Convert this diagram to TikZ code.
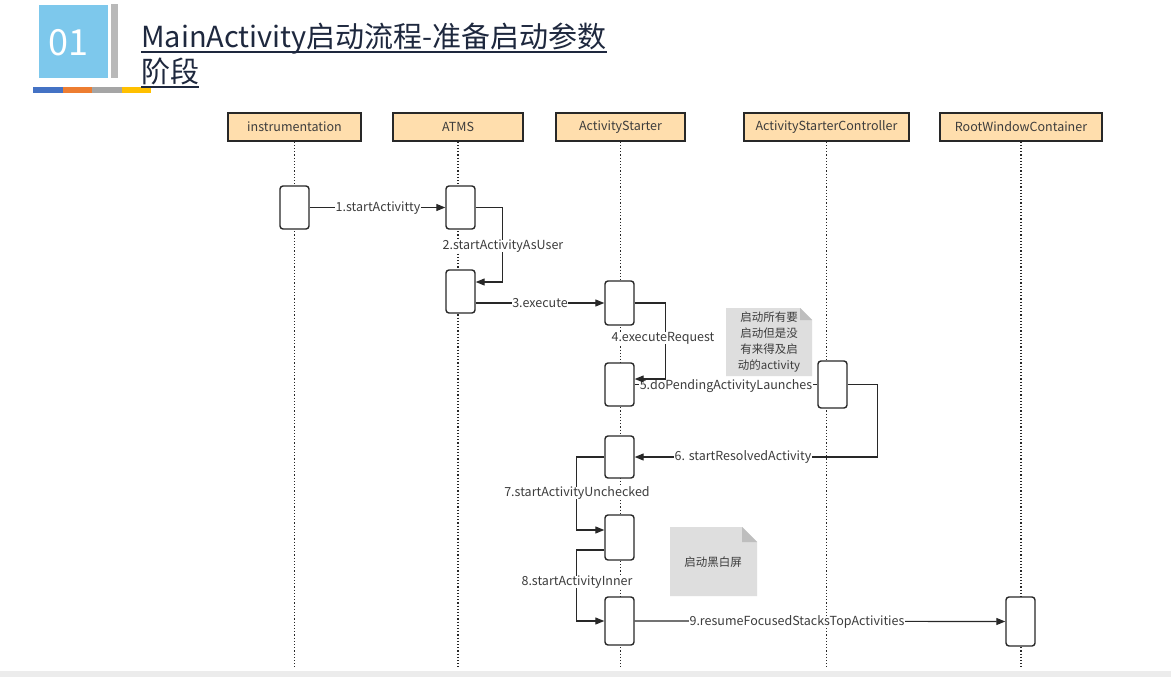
\documentclass[tikz,border=0pt]{standalone}
\usepackage{fontspec}
\setmainfont{Noto Sans CJK SC}
\usetikzlibrary{arrows.meta}
\definecolor{hdrfill}{RGB}{255,222,173}
\definecolor{ink}{RGB}{40,40,40}
\definecolor{txt}{RGB}{60,60,60}
\definecolor{notefill}{RGB}{222,222,222}
\definecolor{notefold}{RGB}{190,190,190}
\definecolor{sqblue}{RGB}{125,200,236}
\definecolor{titlecol}{RGB}{30,40,62}
\definecolor{obl}{RGB}{68,114,196}
\definecolor{oor}{RGB}{237,125,49}
\definecolor{ogr}{RGB}{165,165,165}
\definecolor{oye}{RGB}{255,192,0}
\tikzset{
  hdr/.style={draw=ink, line width=1.3pt, fill=hdrfill, minimum height=28pt, inner sep=0pt,
    font=\fontsize{12.5}{14}\selectfont, text=txt},
  life/.style={draw=ink, line width=1.2pt, dotted},
  act/.style={draw=ink, line width=1.4pt, fill=white, rounded corners=3pt, minimum width=29pt, inner sep=0pt},
  msg/.style={draw=ink, line width=1.2pt, -{Triangle[length=9pt,width=7pt]}},
  plain/.style={draw=ink, line width=1.2pt},
  lbl/.style={fill=white, inner xsep=0.5pt, inner ysep=0pt, font=\fontsize{12.5}{14}\selectfont, text=txt},
  notetxt/.style={font=\fontsize{11.5}{16}\selectfont, text=txt, align=center, inner sep=0pt}
}
\begin{document}
\begin{tikzpicture}[x=1pt,y=-1pt]
\useasboundingbox (0,0) rectangle (1171,677);
\fill[white] (0,0) rectangle (1171,677);
\fill[gray!15] (0,671) rectangle (1171,677);
% title
\fill[sqblue] (39,5) rectangle (108,78);
\node[text=white, font=\fontsize{36}{38}\selectfont, inner sep=0pt] (num) at (68,43) {01};
\fill[gray!55] (111,4) rectangle (118,78);
\fill[obl] (33,87) rectangle (63,93);
\fill[oor] (63,87) rectangle (92,93);
\fill[ogr] (92,87) rectangle (122,93);
\fill[oye] (122,87) rectangle (151,93);
\node[anchor=base west, text=titlecol, font=\fontsize{29}{31}\selectfont, inner sep=0pt] (t1) at (141,48) {MainActivity启动流程-准备启动参数};
\node[anchor=base west, text=titlecol, font=\fontsize{29}{31}\selectfont, inner sep=0pt] (t2) at (141,83) {阶段};
\draw[titlecol, line width=1.2pt] (t1.base west) ++(0,4) -- (t1.base east |- 0,52);
\draw[titlecol, line width=1.2pt] (t2.base west) ++(0,4) -- (t2.base east |- 0,87);
% headers
\node[hdr, minimum width=133pt] (h1) at (294.5,127) {instrumentation};
\node[hdr, minimum width=130pt] (h2) at (458,127) {ATMS};
\node[hdr, minimum width=129pt] (h3) at (620.5,127) {ActivityStarter};
\node[hdr, minimum width=165pt] (h4) at (826.5,127) {ActivityStarterController};
\node[hdr, minimum width=162pt] (h5) at (1021,127) {RootWindowContainer};
\coordinate (e1) at (294.5,667);
\coordinate (e2) at (458,667);
\coordinate (e3) at (620.5,667);
\coordinate (e4) at (826.5,667);
\coordinate (e5) at (1021,667);
\draw[life] (h1.south) -- (e1);
\draw[life] (h2.south) -- (e2);
\draw[life] (h3.south) -- (e3);
\draw[life] (h4.south) -- (e4);
\draw[life] (h5.south) -- (e5);
% notes
\fill[notefill] (726,308) -- (800,308) -- (812,320) -- (812,376) -- (726,376) -- cycle;
\fill[notefold] (800,308) -- (812,320) -- (800,320) -- cycle;
\node[notetxt] (n1) at (769,342) {启动所有要\\启动但是没\\有来得及启\\动的activity};
\fill[notefill] (670,527) -- (742,527) -- (757,542) -- (757,596) -- (670,596) -- cycle;
\fill[notefold] (742,527) -- (757,542) -- (742,542) -- cycle;
\node[notetxt] (n2) at (713,562) {启动黑白屏};
% activations
\node[act, minimum height=43pt] (i1) at (294.5,207.5) {};
\node[act, minimum height=43pt] (a1) at (460.5,207.5) {};
\node[act, minimum height=43pt] (a2) at (460.5,291.5) {};
\node[act, minimum height=44pt] (s1) at (619.5,303) {};
\node[act, minimum height=43pt] (s2) at (619.5,384.5) {};
\node[act, minimum height=47pt] (c1) at (832.5,384.5) {};
\node[act, minimum height=42pt] (s3) at (619.5,457) {};
\node[act, minimum height=45pt] (s4) at (619.5,537.5) {};
\node[act, minimum height=48pt] (s5) at (619.5,621) {};
\node[act, minimum height=49pt] (r1) at (1020.5,621.5) {};
% messages
\draw[msg] (i1.east) -- (a1.west);
\node[lbl] (l1) at (378,208) {1.startActivitty};
\draw[msg] (a1.east) -- ++(27,0) |- ([yshift=9.5pt]a2.east);
\node[lbl] (l2) at (503,246) {2.startActivityAsUser};
\draw[msg] ([yshift=-11.5pt]a2.east) -- (s1.west);
\node[lbl] (l3) at (540,303) {3.execute};
\draw[plain] (c1.west) -- (s2.east);
\node[lbl] (l5) at (726,386) {5.doPendingActivityLaunches};
\draw[msg] (s1.east) -- ++(31,0) |- ([yshift=5.5pt]s2.east);
\node[lbl] (l4) at (663,338) {4.executeRequest};
\draw[msg] (c1.east) -- ++(30,0) |- (s3.east);
\node[lbl] (l6) at (743,457) {6. startResolvedActivity};
\draw[msg] (s3.west) -- ++(-28,0) |- ([yshift=7.5pt]s4.west);
\node[lbl] (l7) at (577,493) {7.startActivityUnchecked};
\draw[msg] ([yshift=-12.5pt]s4.west) -- ++(-28,0) |- (s5.west);
\node[lbl] (l8) at (577,582) {8.startActivityInner};
\draw[msg] (s5.east) -- (r1.west);
\node[lbl] (l9) at (797,622) {9.resumeFocusedStacksTopActivities};
\end{tikzpicture}
\end{document}
